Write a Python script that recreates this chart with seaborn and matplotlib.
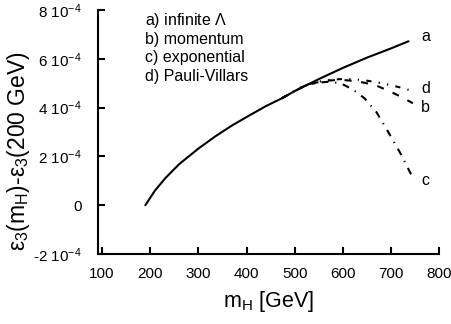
import matplotlib
matplotlib.use('Agg')
import matplotlib.pyplot as plt
import seaborn as sns
import pandas as pd

# valores en unidades de 1e-4
m_a = [190, 210, 232, 260, 300, 335, 370, 404, 440, 473, 500, 550, 600, 650, 700, 736]
eps_a = [0.0, 0.60, 1.12, 1.68, 2.32, 2.82, 3.27, 3.66, 4.06, 4.38, 4.68, 5.17, 5.63, 6.05, 6.43, 6.72]

m_bcd = [473, 500, 520, 545, 570, 595, 620, 645, 670, 700, 720, 745]
eps_b = [4.38, 4.68, 4.89, 5.03, 5.11, 5.14, 5.10, 5.02, 4.90, 4.64, 4.45, 4.18]
eps_c = [4.38, 4.68, 4.89, 5.02, 5.06, 5.00, 4.75, 4.38, 3.80, 2.80, 2.10, 1.12]
eps_d = [4.38, 4.69, 4.91, 5.05, 5.13, 5.17, 5.17, 5.12, 5.04, 4.92, 4.82, 4.68]

leyenda = ['a) infinite $\\Lambda$', 'b) momentum', 'c) exponential', 'd) Pauli-Villars']
yticks = [-2, 0, 2, 4, 6, 8]
ytick_labels = ['-2 10$^{-4}$', '0', '2 10$^{-4}$', '4 10$^{-4}$', '6 10$^{-4}$', '8 10$^{-4}$']
xticks = [100, 200, 300, 400, 500, 600, 700, 800]

sns.set_style('ticks')
plt.rcParams['font.family'] = ['Liberation Sans', 'DejaVu Sans']
plt.rcParams['mathtext.fontset'] = 'custom'
plt.rcParams['mathtext.rm'] = 'Liberation Sans'
plt.rcParams['mathtext.it'] = 'Liberation Sans'
for k in ['text.color', 'axes.labelcolor', 'xtick.color', 'ytick.color', 'axes.edgecolor']:
    plt.rcParams[k] = 'black'

fig = plt.figure(figsize=(4.52, 3.24), dpi=100)
ax = fig.add_axes([0.217, 0.216, 0.755, 0.753])

df_a = pd.DataFrame({'m': m_a, 'eps': eps_a})
df_bcd = pd.DataFrame({'m': m_bcd, 'b': eps_b, 'c': eps_c, 'd': eps_d})

sns.lineplot(data=df_a, x='m', y='eps', color='black', lw=1.5, ax=ax)
sns.lineplot(data=df_bcd, x='m', y='b', color='black', lw=1.5, ax=ax,
             linestyle=(0, (3.4, 4.6)))
sns.lineplot(data=df_bcd, x='m', y='c', color='black', lw=1.5, ax=ax,
             linestyle=(0, (3.4, 3.2, 0.6, 3.2)))
sns.lineplot(data=df_bcd, x='m', y='d', color='black', lw=1.5, ax=ax,
             linestyle=(0, (2.5, 3.5, 0.6, 3.5, 0.6, 3.5)))

# etiquetas de las curvas
ax.text(771, 6.9, 'a', fontsize=11.5, va='center', ha='center')
ax.text(771, 4.8, 'd', fontsize=11.5, va='center', ha='center')
ax.text(771, 3.99, 'b', fontsize=11.5, va='center', ha='center')
ax.text(771, 1.0, 'c', fontsize=11.5, va='center', ha='center')

for i, t in enumerate(leyenda):
    ax.text(190, 7.58 - i * 0.77, t, fontsize=11.5, va='center', ha='left')

ax.set_xlim(92, 800)
ax.set_ylim(-2, 8)
ax.set_xticks(xticks)
ax.set_yticks(yticks)
ax.set_yticklabels(ytick_labels)
ax.tick_params(direction='in', length=5, width=1.5, labelsize=11)
ax.tick_params(axis='x', pad=9)
ax.tick_params(axis='y', pad=12)
for s in ['left', 'bottom']:
    ax.spines[s].set_linewidth(1.5)
sns.despine(ax=ax)

ax.set_xlabel('m$_\\mathrm{H}$ [GeV]', fontsize=15.5, labelpad=6)
ax.set_ylabel('$\\varepsilon_3$(m$_\\mathrm{H}$)-$\\varepsilon_3$(200 GeV)', fontsize=16.5)
ax.yaxis.set_label_coords(-0.195, 0.42)

fig.savefig('out.png', dpi=100)
